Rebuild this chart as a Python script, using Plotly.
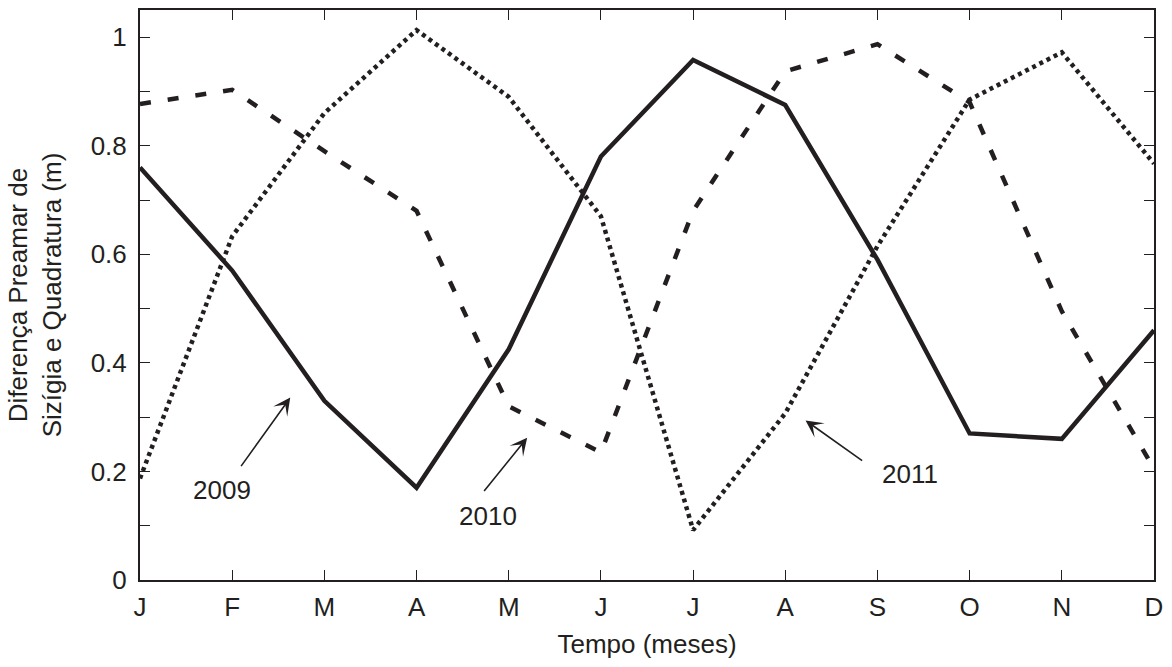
import plotly.graph_objects as go

months = ["J", "F", "M", "A", "M", "J", "J", "A", "S", "O", "N", "D"]
x_idx = list(range(len(months)))

# Difference between spring and neap high water (m)
y2009 = [0.76, 0.57, 0.33, 0.17, 0.425, 0.78, 0.958, 0.875, 0.59, 0.27, 0.26, 0.46]
y2010 = [0.877, 0.903, 0.79, 0.68, 0.32, 0.235, 0.68, 0.937, 0.987, 0.88, 0.495, 0.205]
y2011 = [0.187, 0.633, 0.86, 1.013, 0.89, 0.67, 0.092, 0.307, 0.615, 0.885, 0.972, 0.767]

ink = "#231f20"
font_family = "Liberation Sans, Arial, sans-serif"
fsize = 26

fig = go.Figure()
fig.add_trace(go.Scatter(x=x_idx, y=y2009, mode="lines", name="2009",
                         line=dict(color=ink, width=4.5, dash="solid")))
fig.add_trace(go.Scatter(x=x_idx, y=y2010, mode="lines", name="2010",
                         line=dict(color=ink, width=4.5, dash="11px,17px")))
fig.add_trace(go.Scatter(x=x_idx, y=y2011, mode="lines", name="2011",
                         line=dict(color=ink, width=4.5, dash="4px,4px")))

# Year labels with arrows pointing at each curve
labels = [
    # text, text_x, text_y, tail_x, tail_y, head_x, head_y
    ("2009", 0.89, 0.165, 1.085, 0.207, 1.63, 0.336),
    ("2010", 3.78, 0.118, 3.72, 0.161, 4.2, 0.262),
    ("2011", 8.35, 0.195, 7.85, 0.218, 7.22, 0.294),
]
for txt, tx, ty, sx, sy, hx, hy in labels:
    fig.add_annotation(x=tx, y=ty, text=txt, showarrow=False,
                       font=dict(size=fsize, color=ink, family=font_family))
    fig.add_annotation(x=hx, y=hy, ax=sx, ay=sy, axref="x", ayref="y",
                       xref="x", yref="y", text="", showarrow=True,
                       arrowhead=3, arrowsize=1.8, arrowwidth=1.6,
                       arrowcolor=ink, standoff=0, startstandoff=0)

axis_common = dict(showline=True, linecolor=ink, linewidth=2, mirror="ticks",
                   ticks="inside", ticklen=10, tickwidth=1.3, tickcolor=ink,
                   showgrid=False, zeroline=False,
                   tickfont=dict(size=fsize, color=ink, family=font_family))

fig.update_xaxes(range=[0, 11], tickvals=x_idx, ticktext=months,
                 ticklabelstandoff=3,
                 title=dict(text="Tempo (meses)", standoff=14,
                            font=dict(size=fsize, color=ink, family=font_family)),
                 **axis_common)
fig.update_yaxes(range=[0, 1.05], tickvals=[i / 10 for i in range(11)],
                 ticktext=[("0" if i == 0 else ("1" if i == 10 else f"{i/10:.1f}")) if i % 2 == 0 else ""
                           for i in range(11)],
                 ticklabelstandoff=6,
                 title=dict(text="Diferença Preamar de<br>Sizígia e Quadratura (m)", standoff=22,
                            font=dict(size=fsize, color=ink, family=font_family)),
                 **axis_common)

fig.update_layout(width=1172, height=667, showlegend=False,
                  plot_bgcolor="white", paper_bgcolor="white",
                  margin=dict(l=140, r=18, t=8, b=87),
                  font=dict(family=font_family, color=ink))

fig.write_html("out.html")
